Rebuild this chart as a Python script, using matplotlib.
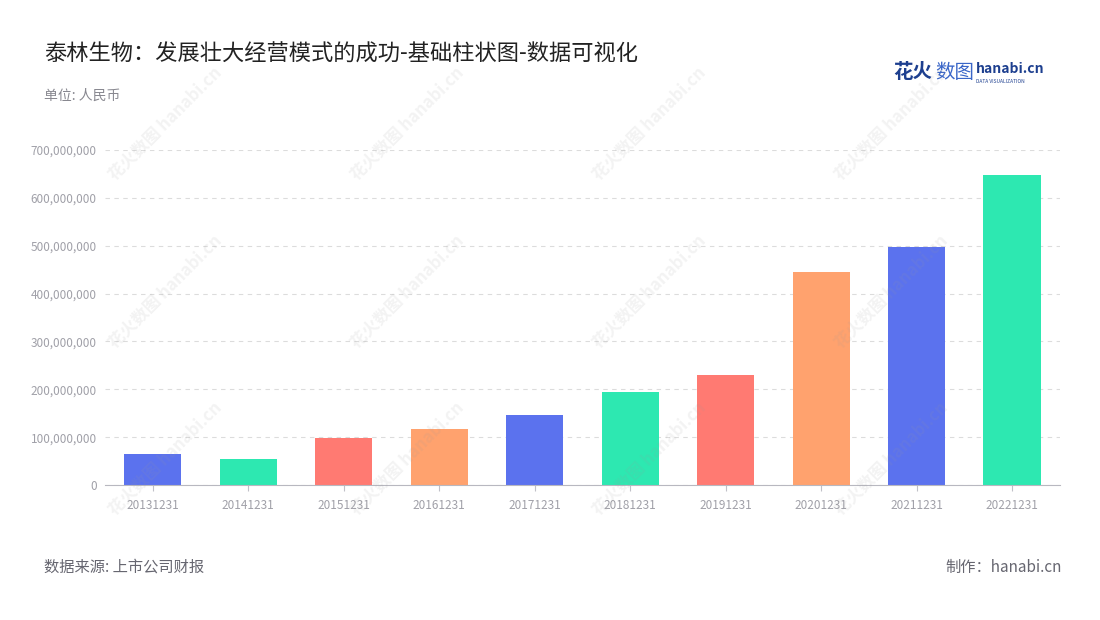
import matplotlib.pyplot as plt
from matplotlib.ticker import FuncFormatter

plt.rcParams['font.family'] = ['Noto Sans CJK SC', 'DejaVu Sans']

# ─── data ──────────────────────────────────────────────────────────────────
years = ["20131231", "20141231", "20151231", "20161231", "20171231",
         "20181231", "20191231", "20201231", "20211231", "20221231"]
values = [65e6, 54e6, 98e6, 117e6, 146e6, 194e6, 230e6, 445e6, 497e6, 648e6]
palette = ["#5b72ee", "#2de8b1", "#ff7a72", "#ffa26e"]

fig = plt.figure(figsize=(11, 6.2), dpi=100)
ax = fig.add_axes([0.0955, 0.2177, 0.868, 0.5403])

colors = [palette[i % 4] for i in range(len(years))]
ax.bar(range(len(years)), values, width=0.6, color=colors, zorder=2)

ax.set_xlim(-0.5, len(years) - 0.5)
ax.set_ylim(0, 700e6)
ax.set_yticks([i * 100e6 for i in range(8)])
ax.yaxis.set_major_formatter(FuncFormatter(lambda v, p: f"{int(v):,}"))
ax.set_xticks(range(len(years)))
ax.set_xticklabels(years)
ax.tick_params(axis="both", labelsize=8.5, colors="#a0a0a8", length=0, pad=6)
ax.tick_params(axis="x", length=4, color="#c0c0c8")
ax.grid(axis="y", linestyle=(0, (4, 4)), color="#dcdcdc", lw=0.8, zorder=0)
for s in ["top", "right", "left"]:
    ax.spines[s].set_visible(False)
ax.spines["bottom"].set_color("#b8b8c0")

# faint watermarks
for wx in [0.15, 0.37, 0.59, 0.81]:
    for wy in [0.8, 0.53, 0.26]:
        fig.text(wx, wy, "花火数图 hanabi.cn", rotation=45, fontsize=12,
                 color="#999999", alpha=0.12, ha="center", va="center",
                 fontweight="bold", zorder=5)

fig.text(0.04, 0.912, "泰林生物：发展壮大经营模式的成功-基础柱状图-数据可视化",
         fontsize=16, color="#222222", va="center")
fig.text(0.04, 0.845, "单位: 人民币", fontsize=10, color="#888890", va="center")
fig.text(0.812, 0.883, "花火", fontsize=14, color="#1d3f8f", fontweight="bold", va="center")
fig.text(0.85, 0.883, "数图", fontsize=14, color="#3a66c8", va="center")
fig.text(0.887, 0.888, "hanabi.cn", fontsize=10, color="#1d3f8f", fontweight="bold", va="center")
fig.text(0.887, 0.869, "DATA VISUALIZATION", fontsize=3.5, color="#1d3f8f", va="center")
fig.text(0.04, 0.085, "数据来源: 上市公司财报", fontsize=11, color="#666670", va="center")
fig.text(0.965, 0.085, "制作：hanabi.cn", fontsize=11, color="#666670", va="center", ha="right")

fig.savefig("out.png")
